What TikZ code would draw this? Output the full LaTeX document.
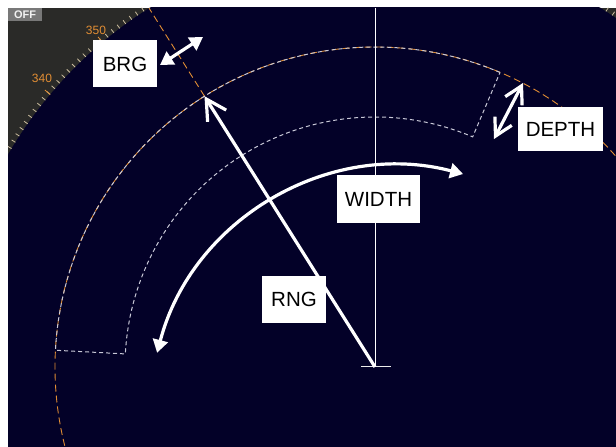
\documentclass[tikz,border=0pt]{standalone}
\usepackage{fontspec}
\setmainfont{Liberation Sans}
\usetikzlibrary{arrows.meta,calc}
\definecolor{RadarNavy}{RGB}{3,1,40}
\definecolor{RadarGrey}{RGB}{42,42,40}
\definecolor{RadarOrange}{RGB}{226,142,52}
\definecolor{RadarTick}{RGB}{205,190,160}
\definecolor{SectorGrey}{RGB}{200,200,215}
\definecolor{OffGrey}{RGB}{120,120,120}

\begin{document}
\begin{tikzpicture}[
x=1pt,y=1pt,
box/.style={
rectangle,fill=white,inner sep=0pt,
minimum width=64pt,minimum height=47pt,
text=black,font=\fontsize{20.5}{24}\selectfont
},
bearing/.style={text=RadarOrange,inner sep=0pt,font=\fontsize{12}{12}\selectfont},
tick/.style={draw=RadarTick,line width=0.8pt},
ring/.style={draw=RadarOrange,line width=0.9pt,dash pattern=on 7pt off 4pt},
sector/.style={draw=SectorGrey,line width=1pt,dash pattern=on 4pt off 3pt},
arrow/.style={draw=white,line width=3.2pt},
barbs/.style={arrow,{Straight Barb[length=17pt,width=19pt]}-{Straight Barb[length=17pt,width=19pt]}},
heads/.style={arrow,{Triangle[length=13pt,width=15pt]}-{Triangle[length=13pt,width=15pt]}}
]

\useasboundingbox (0,0) rectangle (616,447);
\fill[white] (0,0) rectangle (616,447);

\coordinate (ctr) at (375,80);
\coordinate (top) at (375,439);
\coordinate (rngtip) at ($(ctr)+(122.2:320)$);
\coordinate (ebl) at ($(ctr)+(122.2:424)$);
\coordinate (markl) at (361,80);
\coordinate (markr) at (391,80);

\begin{scope}
\clip (8,0) rectangle (616,439);
\fill[RadarGrey] (8,0) rectangle (616,439);
\fill[RadarNavy] (ctr) circle[radius=424];

\foreach \a in {120,...,152,28,29,...,60}
  \draw[tick] ($(ctr)+(\a:424)$) -- ($(ctr)+(\a:428.5)$);
\foreach \a in {130,140,150,30,40,50}
  \draw[tick,draw=RadarOrange] ($(ctr)+(\a:424)$) -- ($(ctr)+(\a:431)$);

\node[bearing] (b350) at (96,417) {350};
\node[bearing] (b340) at (42,369) {340};

\draw[ring] (ctr) circle[radius=320];
\draw[ring] (rngtip) -- (ebl);

\draw[sector] ($(ctr)+(67:320)$) arc[start angle=67,end angle=177,radius=320]
  -- ($(ctr)+(177:250)$) arc[start angle=177,end angle=67,radius=250] -- cycle;

\draw[white,line width=0.8pt] (ctr) -- (top);
\draw[white!85!gray,line width=1pt] (markl) -- (markr);
\end{scope}

\node[fill=OffGrey,inner sep=0pt,minimum width=34pt,minimum height=13pt,
  text=white!90!gray,font=\fontsize{11}{11}\selectfont\bfseries] (off) at (25,432.5) {OFF};

\coordinate (brga) at (160,382);
\coordinate (brgb) at (203,410);
\coordinate (deptha) at (523,364);
\coordinate (depthb) at (494,308);
\coordinate (wctr) at (399.5,30.6);
\coordinate (wl) at ($(wctr)+(165.3:250.6)$);

\draw[arrow,-{Straight Barb[length=20pt,width=22pt]}] (ctr) -- (rngtip);
\draw[heads] (brga) -- (brgb);
\draw[barbs] (deptha) -- (depthb);
\draw[heads] (wl) arc[start angle=165.3,end angle=75.3,radius=250.6];

\node[box] (brg) at (125,383) {BRG};
\node[box,minimum width=85pt,minimum height=44pt] (depth) at (560.5,318) {DEPTH};
\node[box,minimum width=83pt,minimum height=48pt] (width) at (378.5,248) {WIDTH};
\node[box] (rng) at (294,147.5) {RNG};

\end{tikzpicture}
\end{document}
